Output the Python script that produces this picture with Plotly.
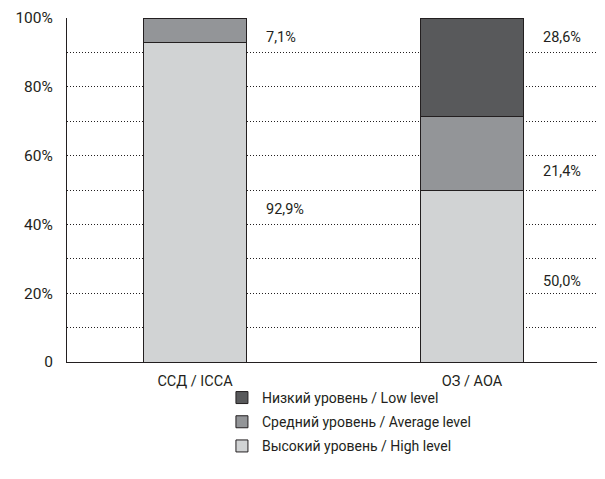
import plotly.graph_objects as go

categories = ["ССД / ICCA", "ОЗ / AOA"]
series_names = ["Высокий уровень / High level", "Средний уровень / Average level", "Низкий уровень / Low level"]
high = [92.9, 50.0]
average = [7.1, 21.4]
low = [0.0, 28.6]
colors = ["#d1d3d4", "#939598", "#58595b"]
label_y = {  # label anchor heights (data units)
    "high": [44.2, 23.5],
    "average": [94.2, 55.5],
    "low": [None, 94.2],
}
ytick_vals = [0, 20, 40, 60, 80, 100]
ytick_text = ["0", "20%", "40%", "60%", "80%", "100%"]

FONT = "Roboto"
TXT = "#231f20"

fig = go.Figure()
for k, (name, vals, col) in enumerate(zip(series_names, [high, average, low], colors)):
    fig.add_trace(go.Bar(
        x=categories, y=vals, name=name, legendgroup=f"g{k}",
        legendrank=1000 - k,
        marker=dict(color=col, line=dict(color=TXT, width=1)),
        width=0.375,
    ))

def fmt(v):
    return f"{v:.1f}".replace(".", ",") + "%"

for key, vals in zip(["high", "average", "low"], [high, average, low]):
    for i, v in enumerate(vals):
        if v <= 0:
            continue
        fig.add_annotation(
            x=categories[i], y=label_y[key][i], text=fmt(v),
            showarrow=False, xanchor="left", yanchor="middle",
            xshift=0.1875 * 277 + 17,
            font=dict(family=FONT, size=14.5, color=TXT),
        )

fig.update_layout(
    barmode="stack",
    width=597, height=471,
    margin=dict(l=59, r=0, t=10, b=117, autoexpand=False),
    paper_bgcolor="white", plot_bgcolor="white",
    font=dict(family=FONT, size=14, color=TXT),
    showlegend=True,
    legend=dict(
        x=0.288, y=-0.058, xanchor="left", yanchor="top",
        traceorder="grouped", orientation="v",
        bgcolor="rgba(0,0,0,0)",
        font=dict(family=FONT, size=14, color=TXT),
        itemwidth=30, tracegroupgap=3,
    ),
    xaxis=dict(
        range=[-0.462, 1.48],
        showline=True, linecolor=TXT, linewidth=1,
        ticks="", showgrid=False, ticklabelstandoff=6,
        tickfont=dict(family=FONT, size=14.5, color=TXT),
    ),
    yaxis=dict(
        range=[0, 100],
        tickvals=ytick_vals, ticktext=ytick_text,
        showline=True, linecolor=TXT, linewidth=1,
        showgrid=True, gridcolor=TXT, griddash="1px,2px", gridwidth=1,
        minor=dict(dtick=10, showgrid=True, gridcolor=TXT, griddash="1px,2px", gridwidth=1),
        ticks="", ticklabelstandoff=10,
        zeroline=False,
        tickfont=dict(family=FONT, size=15.5, color=TXT),
    ),
)

fig.write_html("out.html")
